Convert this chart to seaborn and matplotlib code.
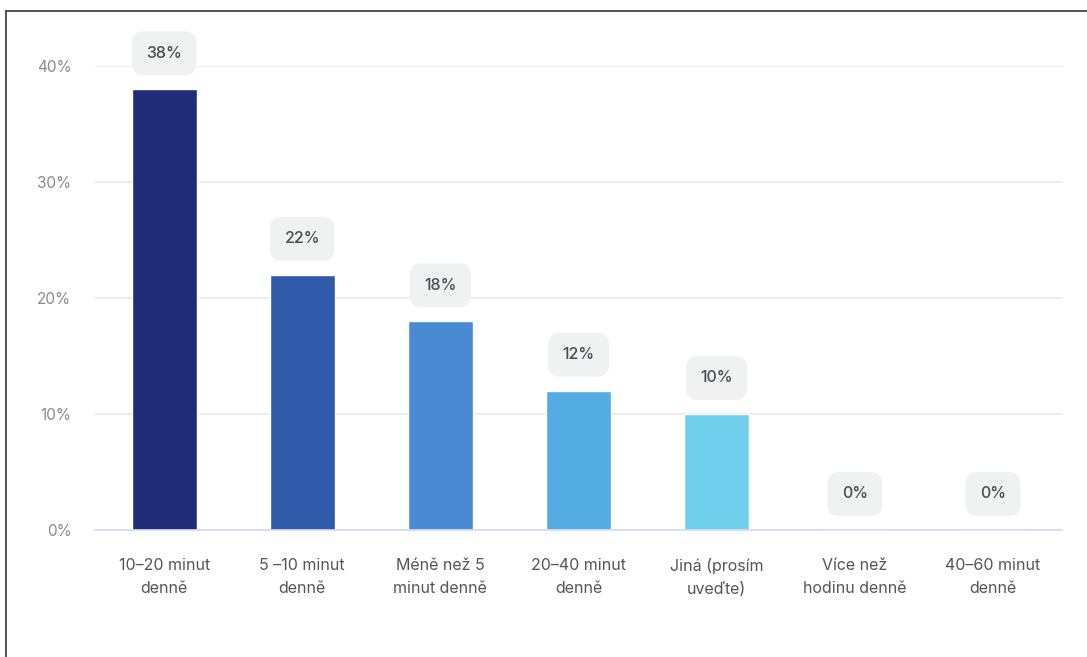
import numpy as np
import matplotlib.pyplot as plt
import seaborn as sns
from matplotlib.lines import Line2D

categories = ["10–20 minut\ndenně", "5 –10 minut\ndenně", "Méně než 5\nminut denně",
              "20–40 minut\ndenně", "Jiná (prosím\nuveďte)", "Více než\nhodinu denně",
              "40–60 minut\ndenně"]
values = [38, 22, 18, 12, 10, 0, 0]
colors = ["#202c78", "#2e5aa9", "#4a89d3", "#53ade2", "#70cfed", "#70cfed", "#70cfed"]
yticks = [0, 10, 20, 30, 40]

sns.set_theme(style="white")
plt.rcParams['font.family'] = ['Inter', 'DejaVu Sans']

fig = plt.figure(figsize=(10.87, 6.57), dpi=100)
ax = fig.add_axes([95 / 1087, 127 / 657, 967 / 1087, 464 / 657])

sns.barplot(x=categories, y=values, hue=categories, palette=colors,
            width=0.47, legend=False, ax=ax, saturation=1)

ax.set_ylim(0, 40)
ax.set_xlim(-0.5, len(categories) - 0.5)
ax.set_yticks(yticks)
ax.set_yticklabels([f"{t}%" for t in yticks])
ax.grid(axis='y', color='#ebebeb', linewidth=1.3)
ax.set_axisbelow(True)
for s in ['top', 'right', 'left']:
    ax.spines[s].set_visible(False)
ax.spines['bottom'].set_color('#d3dbf2')
ax.spines['bottom'].set_linewidth(1.2)
ax.tick_params(axis='y', length=0, pad=17, labelsize=11, labelcolor='#8a8a8a')
ax.tick_params(axis='x', length=0, pad=20, labelsize=11.5, labelcolor='#555555')
for lab in ax.get_xticklabels():
    lab.set_linespacing(1.7)
ax.set_xlabel("")
ax.set_ylabel("")

# value labels in rounded grey boxes
for i, v in enumerate(values):
    ax.annotate(f"{v}%", xy=(i, v), xytext=(0, 36), textcoords='offset pixels',
                ha='center', va='center', fontsize=11.5, fontweight='medium',
                color='#4a4a58', annotation_clip=False,
                bbox=dict(boxstyle='round,pad=0.9,rounding_size=0.7',
                          fc='#f0f1f1', ec='none'))

# frame around screenshot
fig.add_artist(Line2D([6 / 1087, 6 / 1087], [0, 1 - 11 / 657],
                      transform=fig.transFigure, color='#444444', lw=1.3))
fig.add_artist(Line2D([6 / 1087, 1], [1 - 11 / 657, 1 - 11 / 657],
                      transform=fig.transFigure, color='#444444', lw=1.3))

fig.savefig("out.png", dpi=100)
